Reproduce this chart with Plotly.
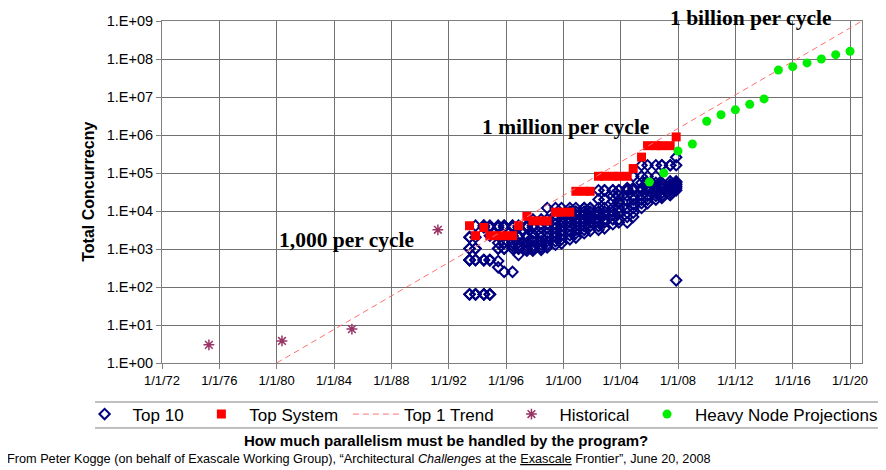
import plotly.graph_objects as go

# ---------------- data ----------------
LIST_DATES = [
    "1993-06-15", "1993-11-15", "1994-06-15", "1994-11-15", "1995-06-15", "1995-11-15",
    "1996-06-15", "1996-11-15", "1997-06-15", "1997-11-15", "1998-06-15", "1998-11-15",
    "1999-06-15", "1999-11-15", "2000-06-15", "2000-11-15", "2001-06-15", "2001-11-15",
    "2002-06-15", "2002-11-15", "2003-06-15", "2003-11-15", "2004-06-15", "2004-11-15",
    "2005-06-15", "2005-11-15", "2006-06-15", "2006-11-15", "2007-06-15", "2007-11-15",
]

TOP_SYSTEM = [
    4096, 2240, 3680, 2240, 2240, 2240, 2240, 4096, 7264, 5500, 5500, 5500,
    9300, 9300, 9300, 33000, 33000, 33000, 82000, 82000, 82000, 82000, 82000, 131000,
    262000, 524000, 524000, 524000, 524000, 890000,
]

# remaining members of each Top 10 list (below the top system)
TOP10_OTHERS = [
    [2048, 2048, 1024, 1024, 512, 512, 512, 64, 64],
    [4096, 2048, 1024, 1024, 512, 512, 64, 64, 64],
    [4096, 4096, 3680, 512, 512, 512, 64, 64, 64],
    [4096, 3680, 2240, 512, 512, 512, 64, 64, 64],
    [4096, 3680, 2240, 1450, 1024, 480, 330, 2240, 1024],
    [4096, 4096, 3680, 1450, 1024, 1024, 250, 2240, 1450],
    [4096, 4096, 3680, 1450, 1200, 1024, 250, 2240, 1450],
    [4096, 3680, 2240, 1450, 1024, 1024, 700, 2048, 1200],
    [4096, 4096, 3680, 2240, 2000, 1450, 1200, 1024, 900],
    [6000, 4096, 3680, 2500, 2048, 1600, 1200, 1024, 900],
    [6000, 4500, 3680, 2600, 2048, 1600, 1300, 1100, 950],
    [12000, 6000, 4500, 3500, 2600, 2048, 1600, 1300, 1100],
    [12000, 8000, 6000, 4500, 3500, 2600, 2048, 1600, 1300],
    [12000, 8000, 6000, 5000, 4000, 3000, 2300, 1800, 1400],
    [12000, 9600, 8000, 6000, 5000, 4000, 3000, 2300, 1800],
    [12000, 9600, 8000, 6000, 5000, 4000, 3200, 2600, 2000],
    [12000, 12000, 9600, 8000, 6000, 5000, 4000, 3200, 2600],
    [12000, 12000, 9600, 8000, 7000, 6000, 5000, 4000, 3000],
    [35000, 20000, 12000, 9600, 8000, 6000, 5000, 4000, 3200],
    [35000, 35000, 20000, 12000, 9600, 8000, 6000, 5000, 3500],
    [35000, 35000, 25000, 18000, 12000, 9600, 8000, 6000, 4500],
    [35000, 35000, 25000, 18000, 16000, 12000, 9000, 6000, 5000],
    [40000, 35000, 35000, 25000, 18000, 12000, 9000, 7000, 5000],
    [82000, 40000, 35000, 25000, 20000, 15000, 12000, 9000, 7000],
    [160000, 82000, 55000, 40000, 35000, 25000, 20000, 16000, 12000],
    [160000, 82000, 55000, 45000, 40000, 35000, 25000, 20000, 16000],
    [160000, 82000, 55000, 45000, 40000, 35000, 30000, 25000, 20000],
    [160000, 160000, 55000, 48000, 42000, 38000, 30000, 25000, 22000],
    [160000, 160000, 60000, 50000, 45000, 40000, 35000, 30000, 26000],
    [260000, 160000, 60000, 55000, 50000, 45000, 40000, 35000, 150],
]

TREND_DATES = ["1980-01-01", "2020-11-01"]
TREND_VALUES = [1, 1e9]

HIST_DATES = ["1975-04-10", "1980-05-15", "1985-04-01", "1991-04-01"]
HIST_VALUES = [3.0, 3.8, 7.8, 3200]

PROJ_DATES = ["2006-01-01", "2007-01-01", "2008-01-01", "2009-01-01", "2010-01-01",
              "2011-01-01", "2012-01-01", "2013-01-01", "2014-01-01", "2015-01-01",
              "2016-01-01", "2017-01-01", "2018-01-01", "2019-01-01", "2020-01-01"]
PROJ_VALUES = [5.8e4, 1.0e5, 3.8e5, 5.8e5, 2.3e6, 3.4e6, 4.6e6, 6.4e6, 8.9e6,
               5.1e7, 6.3e7, 7.9e7, 1.0e8, 1.3e8, 1.6e8]

X_TICK_DATES = ["1972-01-01", "1976-01-01", "1980-01-01", "1984-01-01", "1988-01-01",
                "1992-01-01", "1996-01-01", "2000-01-01", "2004-01-01", "2008-01-01",
                "2012-01-01", "2016-01-01", "2020-01-01"]
X_TICK_LABELS = ["1/1/72", "1/1/76", "1/1/80", "1/1/84", "1/1/88", "1/1/92", "1/1/96",
                 "1/1/00", "1/1/04", "1/1/08", "1/1/12", "1/1/16", "1/1/20"]
Y_TICK_VALUES = [1, 10, 100, 1e3, 1e4, 1e5, 1e6, 1e7, 1e8, 1e9]
Y_TICK_LABELS = ["1.E+00", "1.E+01", "1.E+02", "1.E+03", "1.E+04", "1.E+05",
                 "1.E+06", "1.E+07", "1.E+08", "1.E+09"]

# ---------------- figure ----------------
top10_x, top10_y = [], []
for d, vals in zip(LIST_DATES, TOP10_OTHERS):
    for v in vals:
        top10_x.append(d)
        top10_y.append(v)

SANS = "Liberation Sans, Arial, sans-serif"
SERIF = "Liberation Serif, Times New Roman, serif"
PAD = "\u00a0"

fig = go.Figure()
fig.add_trace(go.Scatter(
    x=top10_x, y=top10_y, mode="markers", name="Top 10" + PAD,
    marker=dict(symbol="diamond-open", size=8, color="#000080", line=dict(width=2, color="#000080")),
))
fig.add_trace(go.Scatter(
    x=LIST_DATES, y=TOP_SYSTEM, mode="markers", name="Top System" + PAD,
    marker=dict(symbol="square", size=9, color="#FF0000"),
))
fig.add_trace(go.Scatter(
    x=TREND_DATES, y=TREND_VALUES, mode="lines", name="Top 1 Trend" + PAD,
    line=dict(color="#FF7070", width=1, dash="6px,4px"),
))
fig.add_trace(go.Scatter(
    x=HIST_DATES, y=HIST_VALUES, mode="markers", name="Historical" + PAD,
    marker=dict(symbol="asterisk-open", size=9, color="#993366", line=dict(width=1.5, color="#993366")),
))
fig.add_trace(go.Scatter(
    x=PROJ_DATES, y=PROJ_VALUES, mode="markers", name="Heavy Node Projections",
    marker=dict(symbol="circle", size=9, color="#00EE00"),
))

# page has an 8px body margin; figure is sized/offset to compensate
fig.update_layout(
    width=878, height=462,
    margin=dict(l=154, r=24, t=13, b=107, autoexpand=False),
    paper_bgcolor="white", plot_bgcolor="white",
    font=dict(family=SANS, color="black", size=13),
    showlegend=True,
    legend=dict(
        orientation="h", x=-0.122, y=-0.098, xanchor="left", yanchor="top",
        font=dict(family=SANS, size=17, color="black"),
        bgcolor="rgba(0,0,0,0)", borderwidth=0, itemwidth=46,
    ),
)

fig.update_xaxes(
    type="date", range=["1972-01-01", "2020-11-01"],
    tickvals=X_TICK_DATES, ticktext=X_TICK_LABELS,
    showgrid=True, gridcolor="#707070", gridwidth=1,
    showline=True, linecolor="#808080", linewidth=1, mirror=True,
    ticks="outside", ticklen=5, tickcolor="#808080",
    tickfont=dict(family=SANS, size=13), zeroline=False,
)
fig.update_yaxes(
    type="log", range=[0, 9],
    tickvals=Y_TICK_VALUES, ticktext=Y_TICK_LABELS,
    showgrid=True, gridcolor="#707070", gridwidth=1,
    showline=True, linecolor="#808080", linewidth=1, mirror=True,
    ticks="outside", ticklen=5, tickcolor="#808080",
    tickfont=dict(family=SANS, size=14.5), zeroline=False,
)

# legend frame (top and bottom rules)
for yy in (-0.114, -0.19):
    fig.add_shape(type="line", xref="paper", yref="paper", x0=-0.0957, x1=1.04, y0=yy, y1=yy,
                  line=dict(color="#808080", width=1))

ann = [
    dict(text="<b>1 billion per cycle</b>", x=0.84, y=1.008, font=dict(family=SERIF, size=21.5)),
    dict(text="<b>1 million per cycle</b>", x=0.577, y=0.69, font=dict(family=SERIF, size=21.5)),
    dict(text="<b>1,000 per cycle</b>", x=0.264, y=0.36, font=dict(family=SERIF, size=21.5)),
]
for a in ann:
    fig.add_annotation(xref="paper", yref="paper", showarrow=False, xanchor="center", yanchor="middle", **a)

fig.add_annotation(text="<b>Total Concurrecny</b>", xref="paper", yref="paper", x=-0.106, y=0.5,
                   xanchor="center", yanchor="middle",
                   textangle=-90, showarrow=False, font=dict(family=SANS, size=16))
fig.add_annotation(text="<b>How much parallelism must be handled by the program?</b>",
                   xref="paper", yref="paper", x=0.406, y=-0.228, showarrow=False,
                   xanchor="center", yanchor="middle", font=dict(family=SANS, size=15))
fig.add_annotation(
    text="From Peter Kogge (on behalf of Exascale Working Group), “Architectural <i>Challenges</i> at the <u>Exascale</u> Frontier”, June 20, 2008",
    xref="paper", yref="paper", x=-0.224, y=-0.281, showarrow=False,
    xanchor="left", yanchor="middle", font=dict(family=SANS, size=12.7))

fig.write_html("out.html")
